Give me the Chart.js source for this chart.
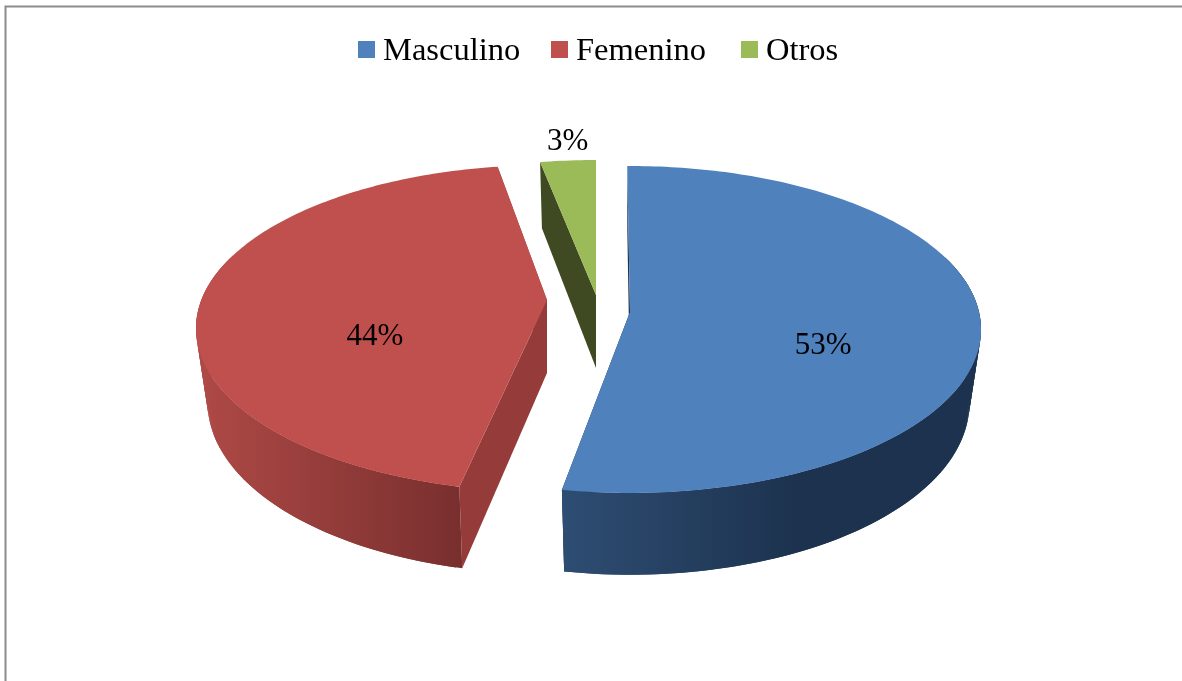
<!DOCTYPE html>
<html><head><meta charset="utf-8">
<style>html,body{margin:0;padding:0;background:#fff}canvas{display:block}</style>
<script src="https://cdn.jsdelivr.net/npm/chart.js@4"></script>
</head><body>
<div style="width:1182px;height:681px"><canvas id="c" width="1182" height="681"></canvas></div>
<script>
const categories = ['Masculino', 'Femenino', 'Otros'];
const shares = [53, 44, 3];
const topColors = ['#4f81bd', '#c0504d', '#9bbb59'];

// Look of the tilted, exploded pie (styling only)
const FONT = '"Liberation Serif", serif';
const tilt = {rx: 349, ry: 161.6, k: 0.107, depth: 73, narrow: 0.033};
const slices = [
  {dx: 33, dy: 6, rot: -0.5, rotEnd: -0.75, apexDy: 0, cut: '#1c324e', wall: [[562,'#2e4d73'],[800,'#1c324e']], label: {r: .553, dy: 25, dx: 0}},
  {dx: -50, dy: 5, rot: 2.2, rotEnd: 1.8, apexDy: -11, cut: '#953c3a', wall: [[205,'#ad4946'],[462,'#782f2e']], label: {r: .49, dy: 26, dx: -1}},
  {dx: -1, dy: 0, rot: 0.6, rotEnd: 0, apexDy: -11, cut: '#3f4a22', wall: [[540,'#3f4a22'],[600,'#3f4a22']], label: {r: 1.14, dy: -1, dx: 5}}
];

const pie3d = {
  id: 'pie3d',
  beforeDraw(chart) {
    const c = chart.ctx;
    c.save();
    c.fillStyle = '#fff'; c.fillRect(0, 0, chart.width, chart.height);
    c.strokeStyle = '#8c8c8c'; c.lineWidth = 2;
    c.beginPath(); c.moveTo(5.5, chart.height); c.lineTo(5.5, 6.5); c.lineTo(chart.width, 6.5); c.stroke();
    c.restore();
  },
  beforeDatasetDraw(chart) {
    const c = chart.ctx;
    const arcs = chart.getDatasetMeta(0).data;
    const order = [2, 1, 0];
    order.forEach(i => {
      const el = arcs[i], st = slices[i];
      const scaleX = tilt.rx / el.outerRadius, scaleY = tilt.ry / el.outerRadius;
      const project = (ang, r, z, apexShift) => {
        const X = r * Math.sin(ang), Y = -r * Math.cos(ang);
        const s = 1 / (1 - tilt.k * Y);
        return {
          x: el.x + st.dx + el.outerRadius * scaleX * X * s * (1 - tilt.narrow * z),
          y: el.y + st.dy + (apexShift || 0) + el.outerRadius * scaleY * Y * s + tilt.depth * z * s
        };
      };
      const a0 = el.startAngle + Math.PI / 2 + st.rot * Math.PI / 180;
      const a1 = el.endAngle + Math.PI / 2 + st.rotEnd * Math.PI / 180;
      const n = Math.max(2, Math.ceil((a1 - a0) / (Math.PI / 180)));
      const angAt = j => a0 + (a1 - a0) * Math.min(j, n) / n;
      const poly = (pts, fill) => {
        c.beginPath(); pts.forEach((p, j) => j ? c.lineTo(p.x, p.y) : c.moveTo(p.x, p.y)); c.closePath();
        c.fillStyle = fill; c.fill();
      };
      const apexTop = project(0, 0, 0, st.apexDy), apexBot = project(0, 0, 1, st.apexDy);
      // cut faces
      poly([apexTop, project(a0, 1, 0), project(a0, 1, 1), apexBot], st.cut);
      poly([apexTop, project(a1, 1, 0), project(a1, 1, 1), apexBot], st.cut);
      // outer wall: overlapping strips so no seams show
      const g = c.createLinearGradient(st.wall[0][0], 0, st.wall[1][0], 0);
      g.addColorStop(0, st.wall[0][1]); g.addColorStop(1, st.wall[1][1]);
      for (let j = 0; j < n; j++) {
        if (Math.cos((angAt(j) + angAt(j + 1)) / 2) > 0.35) continue;
        poly([project(angAt(j), 1, 0), project(angAt(j + 2), 1, 0), project(angAt(j + 2), 1, 1), project(angAt(j), 1, 1)], g);
      }
      // top face
      const face = [apexTop];
      for (let j = 0; j <= n; j++) face.push(project(angAt(j), 1, 0));
      poly(face, el.options.backgroundColor);
    });
    return false;
  },
  afterDraw(chart) {
    const c = chart.ctx;
    const arcs = chart.getDatasetMeta(0).data;
    const total = shares.reduce((a, b) => a + b, 0);
    c.save();
    c.fillStyle = '#000'; c.textBaseline = 'middle'; c.textAlign = 'center';
    c.font = '31px ' + FONT;
    arcs.forEach((el, i) => {
      const st = slices[i];
      const mid = (el.startAngle + el.endAngle) / 2 + Math.PI / 2;
      const X = st.label.r * Math.sin(mid), Y = -st.label.r * Math.cos(mid);
      const s = 1 / (1 - tilt.k * Y);
      const x = el.x + st.dx + st.label.dx + tilt.rx * X * s;
      const y = el.y + st.dy + tilt.ry * Y * s + st.label.dy;
      c.fillText(Math.round(shares[i] / total * 100) + '%', x, y);
    });
    // legend row
    c.textAlign = 'left'; c.textBaseline = 'alphabetic';
    c.font = '32.5px ' + FONT;
    const box = 17, boxGap = 8, starts = [358, 551, 741];
    categories.forEach((name, i) => {
      c.fillStyle = topColors[i]; c.fillRect(starts[i], 41, box, box);
      c.fillStyle = '#000'; c.fillText(name, starts[i] + box + boxGap, 60);
    });
    c.restore();
  }
};

new Chart(document.getElementById('c'), {
  type: 'pie',
  data: {labels: categories, datasets: [{data: shares, backgroundColor: topColors, borderWidth: 0}]},
  options: {
    responsive: false, animation: false,
    layout: {padding: {left: 12, right: 0, top: 0, bottom: 69}},
    plugins: {legend: {display: false}, tooltip: {enabled: false}}
  },
  plugins: [pie3d]
});
</script>
</body></html>
